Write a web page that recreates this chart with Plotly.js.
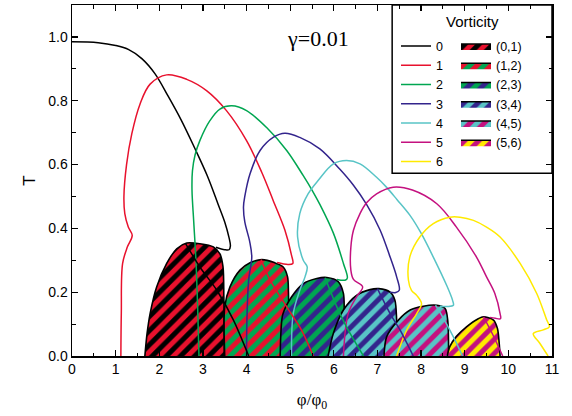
<!DOCTYPE html>
<html><head><meta charset="utf-8">
<script src="https://cdn.plot.ly/plotly-3.0.1.min.js"></script>
<style>html,body{margin:0;padding:0;background:#fff}#chart{width:572px;height:416px}</style>
</head><body><div id="chart"></div>
<script>
// ---- data ----
const curveNames = ['0','1','2','3','4','5','6'];
const regionNames = ['(0,1)','(1,2)','(2,3)','(3,4)','(4,5)','(5,6)'];

// vorticity curves: main branch (up, peak, down to tip and back)
const c0x = [0, 0.6, 1.0, 1.3, 1.6, 1.9, 2.2, 2.5, 2.8, 3.1, 3.35, 3.5, 3.6, 3.63, 3.6, 3.5, 3.3];
const c0y = [0.985, 0.982, 0.973, 0.96, 0.932, 0.885, 0.815, 0.74, 0.655, 0.565, 0.475, 0.42, 0.37, 0.345, 0.333, 0.333, 0.341];
const c1x = [1.12, 1.13, 1.16, 1.27, 1.38, 1.29, 1.21, 1.19, 1.25, 1.37, 1.56, 1.79, 2.17, 2.63, 3.09, 3.54, 4.0, 4.35, 4.61, 4.88, 5.03, 5.06, 4.95, 4.7];
const c1y = [0, 0.134, 0.29, 0.342, 0.378, 0.404, 0.446, 0.50, 0.60, 0.696, 0.79, 0.852, 0.881, 0.867, 0.831, 0.769, 0.675, 0.575, 0.4875, 0.394, 0.316, 0.29, 0.287, 0.293];
const c2x = [2.91, 2.88, 2.84, 2.79, 2.75, 2.76, 2.82, 2.93, 3.16, 3.39, 3.66, 4.0, 4.46, 4.92, 5.30, 5.50, 5.68, 5.99, 6.22, 6.31, 6.27, 6.07];
const c2y = [0, 0.15, 0.30, 0.42, 0.52, 0.58, 0.63, 0.675, 0.7375, 0.774, 0.784, 0.769, 0.716, 0.644, 0.565, 0.52, 0.475, 0.385, 0.29, 0.245, 0.238, 0.24];
const c3x = [4.0, 4.01, 4.05, 4.12, 4.07, 3.96, 3.93, 3.96, 4.08, 4.31, 4.61, 4.88, 5.22, 5.68, 6.14, 6.45, 6.75, 7.06, 7.29, 7.44, 7.5, 7.42, 7.29];
const c3y = [0, 0.12, 0.24, 0.31, 0.36, 0.42, 0.467, 0.5, 0.571, 0.644, 0.685, 0.698, 0.685, 0.649, 0.585, 0.535, 0.475, 0.395, 0.31, 0.248, 0.206, 0.199, 0.2];
const c4x = [5.03, 5.07, 5.22, 5.34, 5.39, 5.30, 5.17, 5.22, 5.41, 5.64, 5.99, 6.29, 6.6, 6.98, 7.2, 7.45, 7.75, 8.0, 8.28, 8.59, 8.72, 8.74, 8.6, 8.43];
const c4y = [0, 0.133, 0.206, 0.248, 0.279, 0.30, 0.373, 0.446, 0.508, 0.55, 0.602, 0.6125, 0.602, 0.56, 0.53, 0.49, 0.44, 0.385, 0.31, 0.22, 0.175, 0.159, 0.155, 0.156];
const c5x = [6.22, 6.33, 6.52, 6.66, 6.45, 6.39, 6.39, 6.45, 6.6, 6.75, 6.98, 7.36, 7.8, 8.36, 8.81, 9.27, 9.5, 9.69, 9.81, 9.82, 9.7, 9.58];
const c5y = [0, 0.133, 0.185, 0.217, 0.24, 0.27, 0.34, 0.394, 0.446, 0.48, 0.508, 0.529, 0.52, 0.477, 0.404, 0.31, 0.248, 0.196, 0.133, 0.117, 0.118, 0.121];
const c6x = [7.44, 7.67, 7.9, 8.01, 7.9, 7.78, 7.71, 7.74, 7.97, 8.28, 8.66, 8.89, 9.2, 9.5, 9.81, 10.27, 10.65, 10.88, 10.94, 10.8, 10.57, 10.72, 10.91];
const c6y = [0, 0.081, 0.133, 0.164, 0.19, 0.206, 0.2375, 0.31, 0.373, 0.415, 0.435, 0.435, 0.425, 0.404, 0.373, 0.29, 0.196, 0.1125, 0.092, 0.082, 0.07, 0.04, 0];

// inner branches (from region top down to T = 0)
const c0ix = [2.6, 2.93, 3.32, 3.70, 4.05];
const c0iy = [0.353, 0.279, 0.206, 0.1125, 0];
const c1ix = [4.33, 4.54, 4.92, 5.26, 5.53];
const c1iy = [0.302, 0.2375, 0.154, 0.081, 0];
const c2ix = [5.8, 6.07, 6.29, 6.68];
const c2iy = [0.245, 0.154, 0.0915, 0];
const c3ix = [7.0, 7.29, 7.52, 7.82];
const c3iy = [0.211, 0.133, 0.081, 0];
const c4ix = [8.33, 8.45, 8.74, 8.95];
const c4iy = [0.159, 0.133, 0.06, 0];
const c5ix = [9.43, 9.65, 9.87];
const c5iy = [0.123, 0.065, 0];

// coexistence regions (L, L+1)
const r01x = [1.67, 1.72, 1.79, 1.94, 2.17, 2.4, 2.63, 2.93, 3.24, 3.39, 3.46, 3.48, 3.49];
const r01y = [0, 0.07, 0.133, 0.2165, 0.29, 0.336, 0.354, 0.352, 0.342, 0.32, 0.28, 0.185, 0];
const r12x = [3.5, 3.5, 3.62, 3.85, 4.08, 4.35, 4.65, 4.84, 4.94, 4.96, 4.97, 5.0];
const r12y = [0, 0.154, 0.2165, 0.269, 0.292, 0.302, 0.292, 0.279, 0.248, 0.2, 0.133, 0];
const r23x = [4.77, 4.79, 4.83, 5.03, 5.3, 5.61, 5.84, 6.1, 6.22, 6.24, 6.27];
const r23y = [0, 0.08, 0.13, 0.185, 0.227, 0.243, 0.246, 0.233, 0.196, 0.133, 0];
const r34x = [5.87, 5.99, 6.22, 6.52, 6.83, 7.03, 7.29, 7.4, 7.44, 7.46];
const r34y = [0, 0.071, 0.144, 0.19, 0.208, 0.211, 0.2, 0.175, 0.1125, 0];
const r45x = [7.15, 7.21, 7.48, 7.75, 8.05, 8.36, 8.55, 8.61, 8.63];
const r45y = [0, 0.06, 0.1125, 0.144, 0.156, 0.159, 0.149, 0.1125, 0];
const r56x = [8.6, 8.66, 8.81, 9.04, 9.31, 9.43, 9.66, 9.75, 9.79, 9.81];
const r56y = [0, 0.03, 0.0615, 0.0915, 0.117, 0.123, 0.1125, 0.086, 0.04, 0];

// ---- style ----
const colors = ['#000000', '#E8112D', '#00A651', '#33248C', '#58C4C6', '#C4117F', '#FFEA00'];
const mainX = [c0x, c1x, c2x, c3x, c4x, c5x, c6x];
const mainY = [c0y, c1y, c2y, c3y, c4y, c5y, c6y];
const innerX = [c0ix, c1ix, c2ix, c3ix, c4ix, c5ix];
const innerY = [c0iy, c1iy, c2iy, c3iy, c4iy, c5iy];
const regX = [r01x, r12x, r23x, r34x, r45x, r56x];
const regY = [r01y, r12y, r23y, r34y, r45y, r56y];

const traces = [];
regX.forEach((xs, i) => {
  traces.push({
    type: 'scatter', mode: 'lines', x: xs, y: regY[i], name: regionNames[i],
    fill: 'toself', fillcolor: colors[i],
    fillpattern: {shape: '/', bgcolor: colors[i], fgcolor: colors[i + 1], size: 10, solidity: 0.5},
    line: {color: '#000', width: 1.6, shape: 'spline', smoothing: 0.8},
    legend: 'legend2', hoverinfo: 'skip'
  });
});
mainX.forEach((xs, i) => {
  traces.push({
    type: 'scatter', mode: 'lines', x: xs, y: mainY[i], name: curveNames[i],
    line: {color: colors[i], width: 1.5, shape: 'spline', smoothing: 1},
    legend: 'legend', hoverinfo: 'skip'
  });
});
innerX.forEach((xs, i) => {
  traces.push({
    type: 'scatter', mode: 'lines', x: xs, y: innerY[i], showlegend: false,
    line: {color: colors[i], width: 1.5, shape: 'spline', smoothing: 0.8},
    hoverinfo: 'skip'
  });
});

const axisCommon = {
  showline: true, linecolor: '#000', linewidth: 1.5, mirror: 'ticks',
  ticks: 'inside', ticklen: 6, tickwidth: 1.2, tickcolor: '#000',
  showgrid: false, zeroline: false,
  tickfont: {family: 'Liberation Sans, Arial, sans-serif', size: 14, color: '#000'}
};

const legendFont = {family: 'Liberation Sans, Arial, sans-serif', size: 12.5, color: '#000'};

const layout = {
  width: 572, height: 416,
  margin: {l: 72, r: 20, t: 5, b: 60},
  paper_bgcolor: '#fff', plot_bgcolor: '#fff',
  xaxis: Object.assign({}, axisCommon, {
    range: [0, 11], dtick: 1, tick0: 0,
    minor: {dtick: 0.5, ticks: 'inside', ticklen: 3.5, tickwidth: 1, tickcolor: '#000'},
    title: {text: 'φ/φ<sub>0</sub>', font: {family: 'Liberation Serif, Times New Roman, serif', size: 17, color: '#000'}, standoff: 17}
  }),
  yaxis: Object.assign({}, axisCommon, {
    range: [0, 1.1], dtick: 0.2, tick0: 0, tickformat: '.1f',
    minor: {dtick: 0.1, ticks: 'inside', ticklen: 3.5, tickwidth: 1, tickcolor: '#000'},
    title: {text: 'T', font: {family: 'Liberation Sans, Arial, sans-serif', size: 17, color: '#000'}, standoff: 8}
  }),
  showlegend: true,
  legend: {x: 0.675, y: 0.925, xanchor: 'left', yanchor: 'top', bgcolor: 'rgba(0,0,0,0)',
           borderwidth: 0, font: legendFont, tracegroupgap: 0, itemwidth: 30},
  legend2: {x: 0.80, y: 0.925, xanchor: 'left', yanchor: 'top', bgcolor: 'rgba(0,0,0,0)',
            borderwidth: 0, font: legendFont, tracegroupgap: 0, itemwidth: 30},
  shapes: [{type: 'rect', xref: 'paper', yref: 'paper', x0: 0.667, x1: 1, y0: 0.521, y1: 1,
            line: {color: '#000', width: 1.5}, fillcolor: 'rgba(0,0,0,0)'}],
  annotations: [
    {x: 5.64, y: 0.995, xref: 'x', yref: 'y', xanchor: 'center', yanchor: 'middle', text: 'γ=0.01', showarrow: false,
     font: {family: 'Liberation Serif, Times New Roman, serif', size: 22, color: '#000'}},
    {x: 0.835, y: 0.952, xref: 'paper', yref: 'paper', xanchor: 'center', yanchor: 'middle', text: 'Vorticity', showarrow: false,
     font: {family: 'Liberation Sans, Arial, sans-serif', size: 15, color: '#000'}}
  ]
};

Plotly.newPlot('chart', traces, layout, {staticPlot: true, displayModeBar: false});
</script>
</body></html>
